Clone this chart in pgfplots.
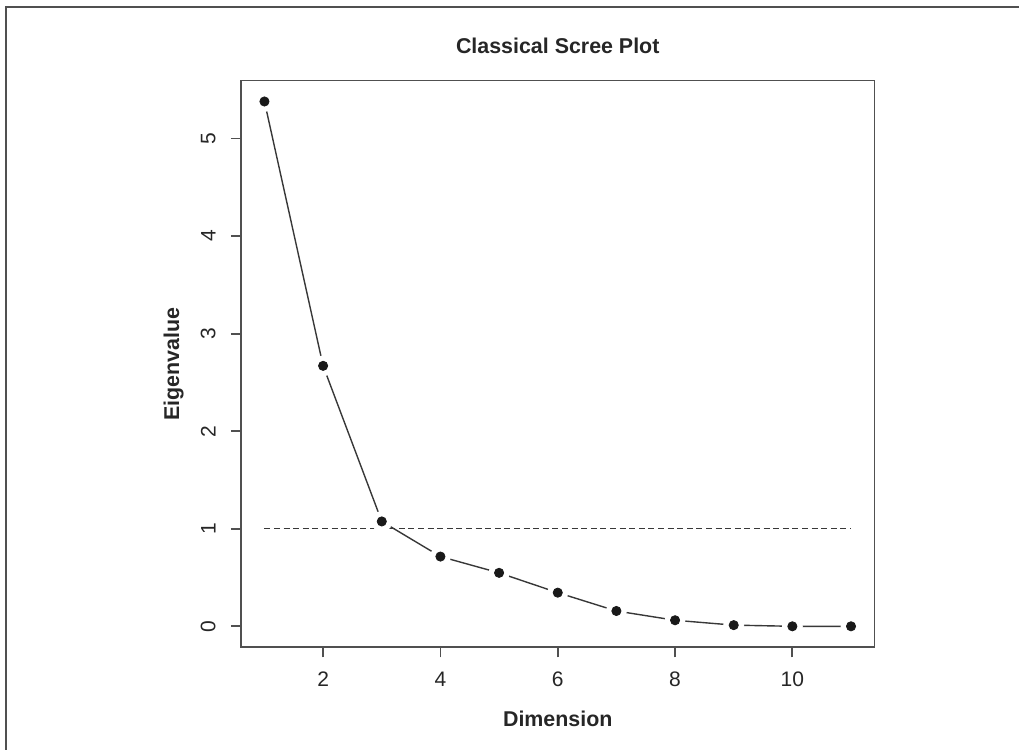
\documentclass[border=0pt]{standalone}
\usepackage{pgfplots}
\pgfplotsset{compat=1.18}
\usepackage{fontspec}
\setmainfont{Liberation Sans}
\definecolor{axgray}{HTML}{505050}
\definecolor{lngray}{HTML}{383838}
\begin{document}
\begin{tikzpicture}
\begin{axis}[
  scale only axis,
  width=316.75pt, height=283.4pt,
  at={(0,0)}, anchor=south west,
  xmin=0.6, xmax=11.4, ymin=-0.2152, ymax=5.5952,
  xtick={2,4,6,8,10}, ytick={0,1,2,3,4,5},
  xtick pos=bottom, ytick pos=left,
  tick align=outside, major tick length=5pt,
  axis line style={axgray, line width=0.9pt},
  every tick/.style={axgray, line width=0.9pt},
  /pgf/number format/assume math mode=true,
  ticklabel style={font=\fontsize{10.5}{12}\selectfont, color=black!85},
  yticklabel style={rotate=90, anchor=south, inner sep=0pt},
  xticklabel style={anchor=north, inner sep=0pt},
  xticklabel shift=7pt, yticklabel shift=7.5pt,
  xlabel={Dimension}, ylabel={Eigenvalue},
  label style={font=\fontsize{10.7}{12}\selectfont\bfseries, color=black!85, inner sep=0pt},
  xlabel style={at={(axis description cs:0.5,-0.1112)}, anchor=north},
  ylabel style={at={(axis description cs:-0.1227,0.5)}, anchor=north},
  title={Classical Scree Plot},
  every axis title shift=0pt,
  title style={font=\fontsize{10.7}{12}\selectfont\bfseries, color=black!85, inner sep=0pt,
    at={(axis description cs:0.5,1.0468)}, anchor=base},
  clip=false,
]
\addplot[lngray, line width=0.7pt, mark=none] coordinates {
(1,5.38) (2,2.67) (3,1.075) (4,0.715) (5,0.548) (6,0.345) (7,0.157) (8,0.062) (9,0.012) (10,0.0) (11,0.0)};
\addplot[only marks, mark=*, mark size=5pt, white, mark options={fill=white, draw=white}] coordinates {
(1,5.38) (2,2.67) (3,1.075) (4,0.715) (5,0.548) (6,0.345) (7,0.157) (8,0.062) (9,0.012) (10,0.0) (11,0.0)};
\addplot[lngray, line width=0.7pt, dash pattern=on 3pt off 1.8pt, mark=none] coordinates {(1,1) (11,1)};
\addplot[only marks, mark=*, mark size=2.3pt, black!90, mark options={fill=black!90, draw=none}] coordinates {
(1,5.38) (2,2.67) (3,1.075) (4,0.715) (5,0.548) (6,0.345) (7,0.157) (8,0.062) (9,0.012) (10,0.0) (11,0.0)};
\end{axis}
\draw[axgray, line width=0.9pt] (-117.5pt,-60pt) -- (-117.5pt,320.15pt) -- (400pt,320.15pt);
\pgfresetboundingbox
\useasboundingbox (-120.5pt,-51.35pt) rectangle (389pt,323.65pt);
\end{tikzpicture}
\end{document}
